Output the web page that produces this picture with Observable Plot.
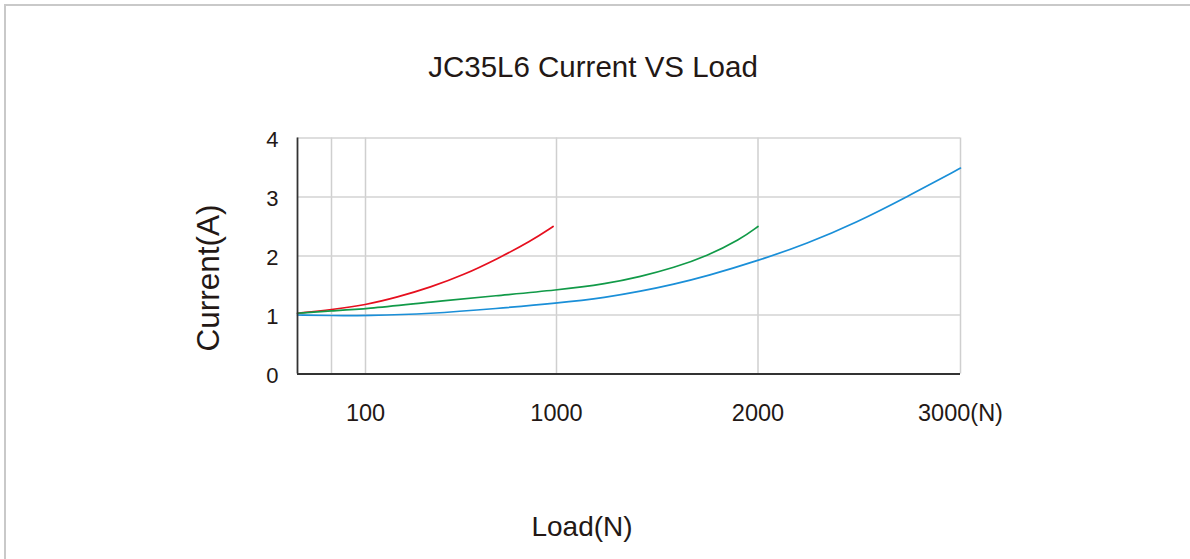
<!DOCTYPE html>
<html>
<head>
<meta charset="utf-8">
<script src="https://cdn.jsdelivr.net/npm/d3@7"></script>
<script src="https://cdn.jsdelivr.net/npm/@observablehq/plot@0.6"></script>
<style>
  html, body { margin: 0; padding: 0; background: #fff; }
  #wrap { position: relative; width: 1190px; height: 559px; overflow: hidden; font-family: "Liberation Sans", Arial, Helvetica, sans-serif; color: #231815; }
  #frame { position: absolute; left: 4px; top: 4px; width: 1300px; height: 700px; border-top: 2px solid #c9c9c9; border-left: 2px solid #c9c9c9; }
  #chart { position: absolute; left: 0; top: 0; }
  .lbl { position: absolute; white-space: nowrap; line-height: 1; }
  #title { left: 593px; transform: translateX(-50%); top: 52px; font-size: 29.5px; }
  #xlabel { left: 582px; transform: translateX(-50%); top: 513px; font-size: 28px; }
  #ylabel { left: 209px; top: 278px; font-size: 31.5px; transform: translate(-50%, -50%) rotate(-90deg); }
</style>
</head>
<body>
<div id="wrap">
  <div id="frame"></div>
  <div id="chart"></div>
  <div class="lbl" id="title">JC35L6 Current VS Load</div>
  <div class="lbl" id="ylabel">Current(A)</div>
  <div class="lbl" id="xlabel">Load(N)</div>
</div>
<script>
// Load (N) positions on the (non-uniform) x axis
const xDomain = [0, 100, 1000, 2000, 3000];
const xTicks = [100, 1000, 2000, 3000];
const xTickLabels = ["100", "1000", "2000", "3000(N)"];
const xGrid = [50, 100, 1000, 2000, 3000];
const yTicks = [0, 1, 2, 3, 4];
const yGrid = [1, 2, 3, 4];

// Series: load (N) and current (A)
const redLoad    = [0, 50, 100, 249, 406, 563, 720, 878, 984];
const redCurrent = [1.03, 1.09, 1.17, 1.30, 1.47, 1.68, 1.95, 2.25, 2.50];

const greenLoad    = [0, 50, 100, 406, 720, 1000, 1251, 1416, 1582, 1747, 1912, 2000];
const greenCurrent = [1.03, 1.07, 1.10, 1.22, 1.33, 1.42, 1.53, 1.65, 1.80, 2.00, 2.28, 2.50];

const blueLoad    = [0, 50, 100, 406, 720, 1000, 1251, 1416, 1582, 1747, 2000, 2242, 2488, 2734, 3000];
const blueCurrent = [1.00, 0.99, 0.99, 1.02, 1.11, 1.20, 1.30, 1.40, 1.52, 1.66, 1.92, 2.21, 2.57, 3.00, 3.49];

const series = [
  {name: "red", color: "#e60f1e", load: redLoad, current: redCurrent},
  {name: "green", color: "#119a48", load: greenLoad, current: greenCurrent},
  {name: "blue", color: "#1a8fd8", load: blueLoad, current: blueCurrent}
];
const rows = series.flatMap(s => s.load.map((l, i) => ({series: s.name, color: s.color, load: l, current: s.current[i]})));

const plot = Plot.plot({
  width: 1190,
  height: 559,
  marginLeft: 297,
  marginRight: 230,
  marginTop: 137.5,
  marginBottom: 185.5,
  style: {fontFamily: '"Liberation Sans", Arial, Helvetica, sans-serif', color: "#231815", background: "transparent"},
  x: {type: "linear", domain: xDomain, range: [297, 365, 556, 757.5, 960], axis: null},
  y: {domain: [0, 4], axis: null},
  marks: [
    Plot.ruleX(xGrid, {x: d => d, stroke: "#cfcfcf", strokeWidth: 1.5}),
    Plot.ruleY(yGrid, {y: d => d, stroke: "#d3d3d3", strokeWidth: 1.5}),
    Plot.line(rows, {x: "load", y: "current", z: "series", stroke: "color", strokeWidth: 1.7, curve: "basis"}),
    Plot.ruleX([0], {stroke: "#333", strokeWidth: 1.8}),
    Plot.ruleY([0], {stroke: "#333", strokeWidth: 1.8, x1: 0, x2: 3000}),
    Plot.axisY({ticks: yTicks, tickSize: 0, tickPadding: 19, fontSize: 22, label: null, tickFormat: d => String(d), textAnchor: "end", dy: 2}),
    Plot.axisX({ticks: xTicks, tickSize: 0, tickPadding: 30, fontSize: 23.5, label: null, tickFormat: (d, i) => xTickLabels[i]})
  ]
});
document.getElementById("chart").appendChild(plot);
</script>
</body>
</html>
